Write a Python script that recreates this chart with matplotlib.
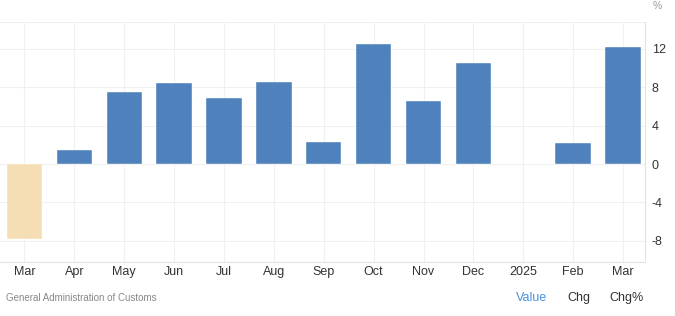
import numpy as np
import matplotlib.pyplot as plt

plt.rcParams['font.family'] = ['Liberation Sans', 'DejaVu Sans']
plt.rcParams['axes.unicode_minus'] = False

months = ['Mar', 'Apr', 'May', 'Jun', 'Jul', 'Aug', 'Sep', 'Oct', 'Nov', 'Dec', '2025', 'Feb', 'Mar']
values = [-7.8, 1.5, 7.5, 8.4, 6.9, 8.6, 2.3, 12.5, 6.6, 10.5, np.nan, 2.2, 12.2]
yticks = [-8, -4, 0, 4, 8, 12]

blue = '#4f81bd'
tan = '#f5deb3'

fig = plt.figure(figsize=(6.75, 3.16), dpi=100)
ax = fig.add_axes([0, 1 - 262 / 316, 645 / 675, 240 / 316])

x = np.arange(len(months))
colors = [tan if v < 0 else blue for v in values]
ax.bar(x, values, width=0.71, color=colors, edgecolor='#ffffff', linewidth=0.3, zorder=3)

ax.set_xlim(-0.49, len(months) - 1 + 0.44)
ax.set_ylim(-10.2, 14.8)
ax.set_xticks(x)
ax.set_xticklabels(months)
ax.set_yticks(yticks)
ax.yaxis.tick_right()
ax.tick_params(axis='both', length=0, labelsize=9, colors='#333333')
ax.tick_params(axis='x', pad=3)
ax.tick_params(axis='y', pad=5)

ax.grid(True, color='#f0f0f0', linewidth=0.8, zorder=0)
for side in ['left', 'top']:
    ax.spines[side].set_visible(False)
for side in ['right', 'bottom']:
    ax.spines[side].set_color('#e3e3e3')
ax.axhline(14.8, color='#eeeeee', linewidth=0.8, zorder=1)

fig.text(657 / 675, 1 - 6 / 316, '%', fontsize=7.5, color='#999999', ha='center', va='center')
fig.text(6 / 675, 1 - 298 / 316, 'General Administration of Customs', fontsize=7, color='#888888', va='center')
fig.text(532 / 675, 1 - 298 / 316, 'Value', fontsize=9, color='#4a90e2', ha='center', va='center')
fig.text(579 / 675, 1 - 298 / 316, 'Chg', fontsize=9, color='#333333', ha='center', va='center')
fig.text(627 / 675, 1 - 298 / 316, 'Chg%', fontsize=9, color='#333333', ha='center', va='center')

fig.savefig('out.png', dpi=100)
